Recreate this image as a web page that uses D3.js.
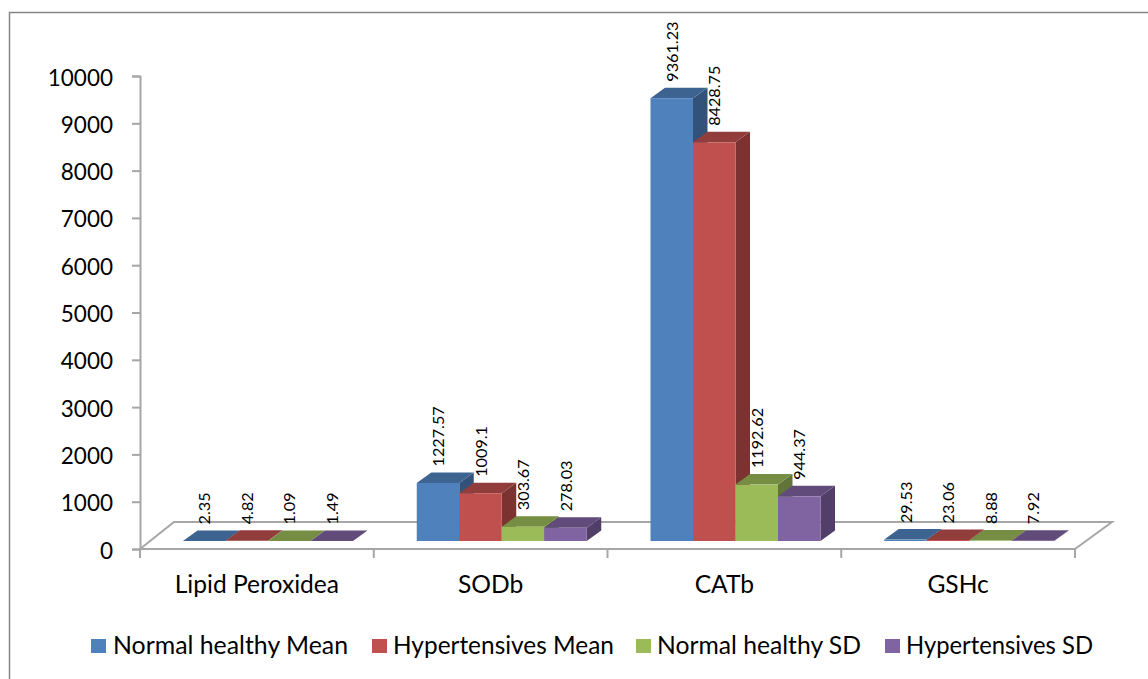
<!DOCTYPE html>
<html><head><meta charset="utf-8">
<script src="https://cdn.jsdelivr.net/npm/d3@7/dist/d3.min.js"></script>
<style>html,body{margin:0;padding:0;background:#fff}svg{display:block}text{font-family:Lato,sans-serif;fill:#000}</style>
</head><body><svg id="c" width="1148" height="679"></svg>
<script>
const categories=["Lipid Peroxidea","SODb","CATb","GSHc"];
const seriesNames=["Normal healthy Mean","Hypertensives Mean","Normal healthy SD","Hypertensives SD"];
const normalMean=[2.35,1227.57,9361.23,29.53];
const hyperMean=[4.82,1009.1,8428.75,23.06];
const normalSD=[1.09,303.67,1192.62,8.88];
const hyperSD=[1.49,278.03,944.37,7.92];
const labelText=[["2.35","1227.57","9361.23","29.53"],["4.82","1009.1","8428.75","23.06"],["1.09","303.67","1192.62","8.88"],["1.49","278.03","944.37","7.92"]];
const yTicks=[0,1000,2000,3000,4000,5000,6000,7000,8000,9000,10000];
const frontCol=["#4f81bd","#c0504d","#9bbb59","#8064a2"];
const topCol=["#3d6491","#913d3b","#768e43","#614b7b"];
const sideCol=["#335279","#7c3230","#61753a","#523f69"];
const values=[normalMean,hyperMean,normalSD,hyperSD];

const svg=d3.select("#c");
const grey="#a6a6a6";
const dx=14.5,dy=-10.5,lift=8;
const y=d3.scaleLinear().domain([0,10000]).range([549,76]);
const x=d3.scaleBand().domain(categories).range([140,1075]);
const inner=d3.scaleBand().domain(d3.range(4)).range([43,213]);

// frame
svg.append("path").attr("d","M9.5,679V12.5H1148").attr("fill","none").attr("stroke","#868686").attr("stroke-width",1.5);

// floor
const floorG=svg.append("g").attr("fill","none").attr("stroke",grey).attr("stroke-width",2);
const x0=x.range()[0],x1=x.range()[1],y0=y(0);
floorG.append("path").attr("d",`M${x0},${y0}L${x0+34},${y0-27}H${x1+37}L${x1},${y0}`);

// y axis
const yAxis=d3.axisLeft(y).tickValues(yTicks).tickSize(8).tickPadding(19).tickFormat(d3.format("d"));
const ya=svg.append("g").attr("transform",`translate(${x0},0)`).call(yAxis);
ya.selectAll("path,line").attr("stroke",grey).attr("stroke-width",2);
ya.selectAll("text").attr("font-size",22.5).attr("font-family","Lato,sans-serif").attr("fill","#000").attr("dy","0.4em");

// x axis
const xa=svg.append("g").attr("fill","none").attr("stroke",grey).attr("stroke-width",2);
xa.append("path").attr("d",`M${x0},${y0}H${x1}`);
d3.range(5).forEach(i=>{
  const px=x0+i*x.step();
  xa.append("line").attr("x1",px).attr("x2",px).attr("y1",y0).attr("y2",y0+9);
});
svg.append("g").selectAll("text").data(categories).join("text")
  .attr("x",d=>x(d)+x.bandwidth()/2).attr("y",593).attr("text-anchor","middle")
  .attr("font-size",24.6).text(d=>d);

// bars
categories.forEach((c,ci)=>{
  values.forEach((s,si)=>{
    const l=x(c)+inner(si),r=l+inner.bandwidth(),b=y(0)-lift,t=y(s[ci])-lift;
    const g=svg.append("g");
    g.append("path").attr("fill",sideCol[si]).attr("d",`M${r},${b}L${r+dx},${b+dy}V${t+dy}L${r},${t}Z`);
    g.append("path").attr("fill",topCol[si]).attr("d",`M${l},${t}L${l+dx},${t+dy}H${r+dx}L${r},${t}Z`);
    g.append("rect").attr("fill",frontCol[si]).attr("x",l).attr("y",t).attr("width",r-l).attr("height",b-t);
  });
});
// data labels
categories.forEach((c,ci)=>{
  values.forEach((s,si)=>{
    const cx=x(c)+inner(si)+inner.bandwidth()/2, top=y(s[ci])-lift+dy-6;
    svg.append("text").attr("transform",`translate(${cx+6},${top}) rotate(-90)`)
      .attr("font-size",16.2).text(labelText[si][ci]);
  });
});

// legend
const legendSwatch=[91,372,636,885];
const legendTextX=[113,393,657,906];
const legendTextW=[235,221,204,187];
const legend=svg.append("g");
seriesNames.forEach((n,i)=>{
  legend.append("rect").attr("x",legendSwatch[i]).attr("y",639).attr("width",15).attr("height",14).attr("fill",frontCol[i]);
  legend.append("text").attr("x",legendTextX[i]).attr("y",654).attr("font-size",24.4)
    .attr("textLength",legendTextW[i]).attr("lengthAdjust","spacingAndGlyphs").text(n);
});
</script></body></html>
